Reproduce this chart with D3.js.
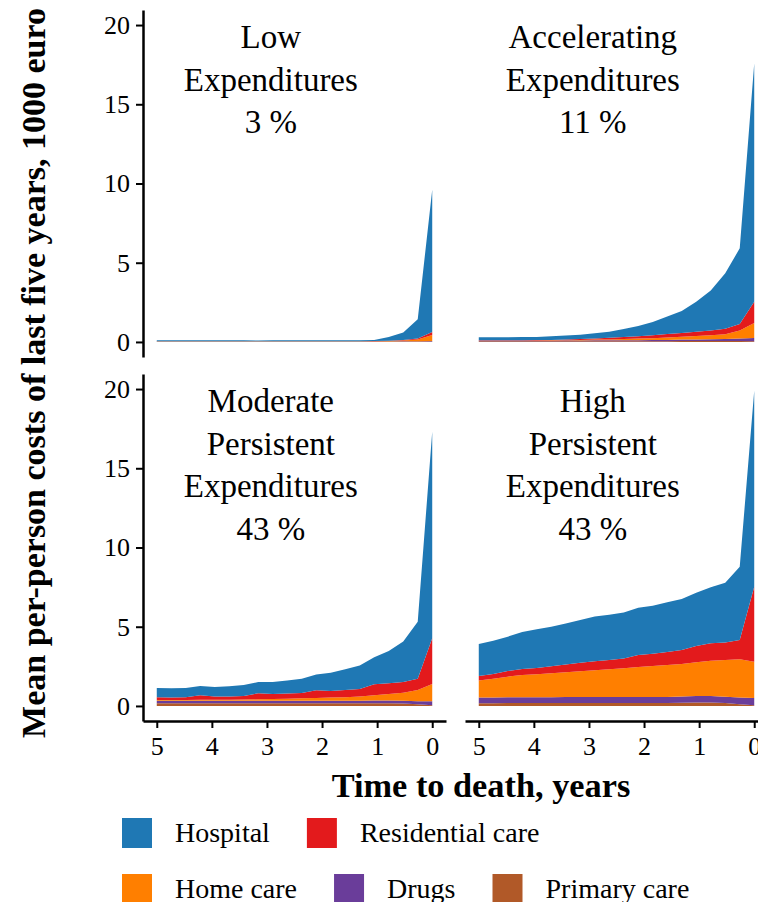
<!DOCTYPE html>
<html>
<head>
<meta charset="utf-8">
<script src="https://cdn.jsdelivr.net/npm/d3@7"></script>
<style>
  body { margin: 0; background: #fff; }
  svg { display: block; font-family: 'Liberation Serif', 'Times New Roman', serif; }
</style>
</head>
<body>
<svg id="chart" width="758" height="902"></svg>
<script>
// time to death (years), 20 quarters
const yearsToDeath = [5.000, 4.737, 4.474, 4.211, 3.947, 3.684, 3.421, 3.158, 2.895, 2.632,
  2.368, 2.105, 1.842, 1.579, 1.316, 1.053, 0.789, 0.526, 0.263, 0.000];

const costTypes = ['Hospital', 'Residential care', 'Home care', 'Drugs', 'Primary care'];
const costColors = ['#1F78B4', '#E31A1C', '#FF7F00', '#6A3D9A', '#B15928'];

const xTicks = [5, 4, 3, 2, 1, 0];
const yTicks = [0, 5, 10, 15, 20];

// Low Expenditures
const lowTitle = ['Low', 'Expenditures', '3 %'];
const lowHospital = [0.06, 0.05, 0.06, 0.06, 0.05, 0.06, 0.05, 0.04, 0.05, 0.06, 0.05, 0.05, 0.05, 0.05, 0.06, 0.07, 0.23, 0.46, 1.22, 8.97];
const lowResidential = [0.01, 0.01, 0.01, 0.01, 0.01, 0.01, 0.01, 0.01, 0.01, 0.01, 0.01, 0.01, 0.01, 0.01, 0.01, 0.01, 0.02, 0.04, 0.06, 0.19];
const lowHome = [0.01, 0.01, 0.01, 0.01, 0.01, 0.01, 0.01, 0.01, 0.01, 0.01, 0.01, 0.01, 0.01, 0.01, 0.01, 0.02, 0.03, 0.05, 0.10, 0.38];
const lowDrugs = [0.01, 0.01, 0.01, 0.01, 0.01, 0.01, 0.01, 0.01, 0.01, 0.01, 0.01, 0.01, 0.01, 0.01, 0.01, 0.01, 0.01, 0.02, 0.02, 0.03];
const lowPrimary = [0.02, 0.02, 0.02, 0.02, 0.02, 0.02, 0.02, 0.02, 0.02, 0.02, 0.02, 0.02, 0.02, 0.02, 0.02, 0.02, 0.02, 0.02, 0.03, 0.03];

// Accelerating Expenditures
const accTitle = ['Accelerating', 'Expenditures', '11 %'];
const accHospital = [0.19, 0.19, 0.19, 0.21, 0.20, 0.23, 0.25, 0.28, 0.33, 0.38, 0.50, 0.65, 0.84, 1.10, 1.39, 1.89, 2.52, 3.49, 4.77, 15.04];
const accResidential = [0.02, 0.02, 0.02, 0.03, 0.03, 0.03, 0.04, 0.06, 0.07, 0.11, 0.13, 0.15, 0.18, 0.22, 0.24, 0.27, 0.29, 0.36, 0.41, 1.34];
const accHome = [0.01, 0.01, 0.01, 0.01, 0.02, 0.02, 0.02, 0.03, 0.05, 0.06, 0.08, 0.10, 0.12, 0.15, 0.18, 0.22, 0.26, 0.30, 0.52, 0.95];
const accDrugs = [0.03, 0.03, 0.03, 0.03, 0.03, 0.04, 0.04, 0.04, 0.05, 0.05, 0.06, 0.06, 0.07, 0.08, 0.09, 0.10, 0.11, 0.12, 0.15, 0.20];
const accPrimary = [0.04, 0.04, 0.04, 0.04, 0.04, 0.04, 0.05, 0.05, 0.05, 0.05, 0.05, 0.05, 0.05, 0.05, 0.06, 0.06, 0.06, 0.06, 0.06, 0.05];

// Moderate Persistent Expenditures
const modTitle = ['Moderate', 'Persistent', 'Expenditures', '43 %'];
const modHospital = [0.59, 0.59, 0.59, 0.59, 0.61, 0.65, 0.69, 0.71, 0.75, 0.82, 0.90, 0.99, 1.15, 1.30, 1.49, 1.70, 2.04, 2.55, 3.60, 13.03];
const modResidential = [0.17, 0.15, 0.17, 0.28, 0.20, 0.20, 0.23, 0.38, 0.32, 0.32, 0.34, 0.49, 0.42, 0.46, 0.48, 0.70, 0.67, 0.67, 0.72, 2.89];
const modHome = [0.05, 0.05, 0.05, 0.06, 0.06, 0.06, 0.07, 0.09, 0.11, 0.13, 0.15, 0.17, 0.20, 0.22, 0.26, 0.33, 0.41, 0.51, 0.70, 1.08];
const modDrugs = [0.16, 0.16, 0.16, 0.16, 0.16, 0.16, 0.16, 0.16, 0.16, 0.16, 0.16, 0.16, 0.16, 0.16, 0.16, 0.17, 0.18, 0.18, 0.20, 0.25];
const modPrimary = [0.17, 0.17, 0.17, 0.17, 0.17, 0.17, 0.17, 0.17, 0.17, 0.17, 0.17, 0.17, 0.17, 0.17, 0.17, 0.17, 0.17, 0.15, 0.10, 0.05];

// High Persistent Expenditures
const highTitle = ['High', 'Persistent', 'Expenditures', '43 %'];
const highHospital = [2.02, 2.10, 2.16, 2.34, 2.44, 2.50, 2.60, 2.70, 2.82, 2.86, 2.89, 2.98, 3.03, 3.13, 3.22, 3.36, 3.54, 3.78, 4.63, 12.37];
const highResidential = [0.29, 0.30, 0.36, 0.37, 0.40, 0.44, 0.49, 0.54, 0.57, 0.59, 0.62, 0.76, 0.78, 0.82, 0.88, 1.04, 1.09, 1.10, 1.22, 4.74];
const highHome = [1.07, 1.19, 1.30, 1.41, 1.45, 1.51, 1.56, 1.63, 1.69, 1.75, 1.81, 1.89, 1.95, 2.02, 2.06, 2.13, 2.24, 2.32, 2.41, 2.29];
const highDrugs = [0.36, 0.36, 0.37, 0.37, 0.37, 0.37, 0.38, 0.38, 0.38, 0.38, 0.38, 0.38, 0.38, 0.38, 0.39, 0.40, 0.40, 0.40, 0.42, 0.45];
const highPrimary = [0.17, 0.17, 0.18, 0.18, 0.18, 0.18, 0.18, 0.18, 0.18, 0.18, 0.19, 0.19, 0.19, 0.19, 0.20, 0.22, 0.22, 0.18, 0.11, 0.05];

var panels = [
  { title: lowTitle, series: [lowHospital, lowResidential, lowHome, lowDrugs, lowPrimary], col: 0, row: 0 },
  { title: accTitle, series: [accHospital, accResidential, accHome, accDrugs, accPrimary], col: 1, row: 0 },
  { title: modTitle, series: [modHospital, modResidential, modHome, modDrugs, modPrimary], col: 0, row: 1 },
  { title: highTitle, series: [highHospital, highResidential, highHome, highDrugs, highPrimary], col: 1, row: 1 }
];

// panel layout
var colX = [[143, 446], [465, 768]];
var rowY = [[10, 357], [374, 721]];
var axisW = 2.5;

var svg = d3.select('#chart');

// stacking order: primary care at the bottom, hospital on top
var stackKeys = costTypes.slice().reverse();
var color = d3.scaleOrdinal().domain(costTypes).range(costColors);

panels.forEach(function (p) {
  var x = d3.scaleLinear().domain([5.25, -0.25]).range(colX[p.col]);
  var y = d3.scaleLinear().domain([-0.95, 20.95]).range([rowY[p.row][1], rowY[p.row][0]]);

  var rows = yearsToDeath.map(function (t, i) {
    var r = { t: t };
    costTypes.forEach(function (k, j) { r[k] = p.series[j][i]; });
    return r;
  });

  var stacked = d3.stack().keys(stackKeys)(rows);

  var area = d3.area()
    .x(function (d) { return x(d.data.t); })
    .y0(function (d) { return y(d[0]); })
    .y1(function (d) { return y(d[1]); });

  var g = svg.append('g');

  g.selectAll('path.layer')
    .data(stacked)
    .enter()
    .append('path')
    .attr('class', 'layer')
    .attr('fill', function (d) { return color(d.key); })
    .attr('d', area);

  // panel label
  var label = g.append('text')
    .attr('text-anchor', 'middle')
    .attr('font-size', 33)
    .attr('fill', '#000');
  p.title.forEach(function (line, i) {
    label.append('tspan')
      .attr('x', x(2.93))
      .attr('y', y(20) + 23 + i * 42.5)
      .text(line);
  });

  // y axis only on the left column
  if (p.col === 0) {
    var yAxis = g.append('g')
      .attr('transform', 'translate(' + colX[p.col][0] + ',0)')
      .call(d3.axisLeft(y).tickValues(yTicks).tickFormat(d3.format('d')).tickSize(7).tickSizeOuter(0).tickPadding(6));
    yAxis.select('.domain').attr('stroke-width', axisW);
    yAxis.selectAll('.tick line').attr('stroke-width', 2);
    yAxis.selectAll('.tick text')
      .attr('font-size', 26)
      .attr('font-family', "'Liberation Serif', serif")
      .attr('fill', '#000');
  }

  // x axis only on the bottom row
  if (p.row === 1) {
    var xAxis = g.append('g')
      .attr('transform', 'translate(0,' + rowY[p.row][1] + ')')
      .call(d3.axisBottom(x).tickValues(xTicks).tickFormat(d3.format('d')).tickSize(7).tickSizeOuter(0).tickPadding(9));
    xAxis.select('.domain').attr('stroke-width', axisW);
    xAxis.selectAll('.tick line').attr('stroke-width', 2);
    xAxis.selectAll('.tick text')
      .attr('font-size', 26)
      .attr('font-family', "'Liberation Serif', serif")
      .attr('fill', '#000');
  }
});

// axis titles
svg.append('text')
  .attr('transform', 'translate(45,373) rotate(-90)')
  .attr('text-anchor', 'middle')
  .attr('font-size', 34)
  .attr('font-weight', 'bold')
  .text('Mean per-person costs of last five years, 1000 euro');

svg.append('text')
  .attr('x', 481)
  .attr('y', 797)
  .attr('text-anchor', 'middle')
  .attr('font-size', 34.3)
  .attr('font-weight', 'bold')
  .text('Time to death, years');

// legend, two rows
var legendRows = [costTypes.slice(0, 2), costTypes.slice(2)];
var keySize = 30;
legendRows.forEach(function (items, r) {
  var cx = 122;
  var top = 818 + r * 56;
  items.forEach(function (name) {
    svg.append('rect')
      .attr('x', cx)
      .attr('y', top)
      .attr('width', keySize)
      .attr('height', keySize)
      .attr('fill', color(name));
    var t = svg.append('text')
      .attr('x', cx + keySize + 23)
      .attr('y', top + keySize / 2 + 9)
      .attr('font-size', 28)
      .text(name);
    cx = cx + keySize + 23 + t.node().getComputedTextLength() + 37;
  });
});
</script>
</body>
</html>
